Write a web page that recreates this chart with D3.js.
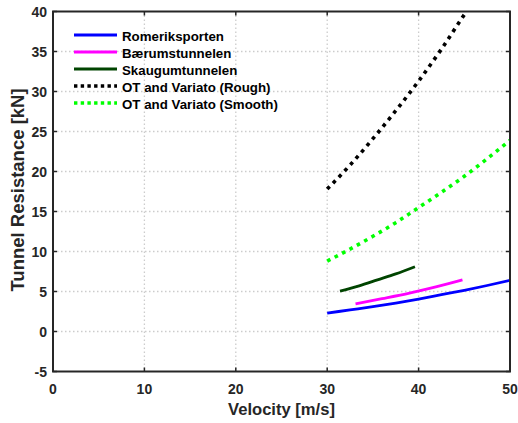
<!DOCTYPE html>
<html><head><meta charset="utf-8">
<script src="https://cdn.jsdelivr.net/npm/d3@7"></script>
<style>body{margin:0;background:#fff}svg{display:block;font-family:"Liberation Sans",Arial,sans-serif}</style>
</head><body>
<svg id="c" width="518" height="423"></svg>
<script>
const xTicks = [0,10,20,30,40,50];
const yTicks = [-5,0,5,10,15,20,25,30,35,40];
const seriesNames = ["Romeriksporten","Bærumstunnelen","Skaugumtunnelen","OT and Variato (Rough)","OT and Variato (Smooth)"];
const seriesColors = ["#0000ff","#ff00ff","#004400","#000000","#00ff00"];
const seriesDotted = [false,false,false,true,true];
const romVel = [30,32.5,35,37.5,40,42.5,45,47.5,50];
const romRes = [2.3,2.7,3.1,3.55,4.05,4.6,5.15,5.75,6.4];
const baeVel = [33.1,36,39,42,44.8];
const baeRes = [3.45,4.1,4.8,5.6,6.45];
const skaVel = [31.4,33.5,35.5,37.5,39.6];
const skaRes = [5.05,5.7,6.45,7.2,8.1];
const roughVel = [30,32.5,35,37.5,40,42.5,45,45.3];
const roughRes = [17.8,20.8,24.1,27.6,31.3,35.3,39.6,40.1];
const smoothVel = [30,32.5,35,37.5,40,42.5,45,47.5,50];
const smoothRes = [8.8,10.3,11.9,13.6,15.5,17.4,19.4,21.6,23.9];
const seriesVel = [romVel,baeVel,skaVel,roughVel,smoothVel];
const seriesRes = [romRes,baeRes,skaRes,roughRes,smoothRes];

const svg = d3.select("#c");
const L=53,R=510,T=11.5,B=371.5;
const x = d3.scaleLinear().domain([0,50]).range([L,R]);
const y = d3.scaleLinear().domain([-5,40]).range([B,T]);
const axisCol="#262626";

// grid
const g = svg.append("g");
g.selectAll(".gx").data(xTicks.slice(1,-1)).join("line")
 .attr("x1",d=>x(d)).attr("x2",d=>x(d)).attr("y1",T).attr("y2",B)
 .attr("stroke","#cccccc").attr("stroke-width",1.3).attr("stroke-dasharray","1.5,2.5");
g.selectAll(".gy").data(yTicks.slice(1,-1)).join("line")
 .attr("y1",d=>y(d)).attr("y2",d=>y(d)).attr("x1",L).attr("x2",R)
 .attr("stroke","#cccccc").attr("stroke-width",1.3).attr("stroke-dasharray","1.5,2.5");

// lines
svg.append("clipPath").attr("id","pc").append("rect")
 .attr("x",L).attr("y",T).attr("width",R-L).attr("height",B-T);
const line = d3.line().x(d=>x(d[0])).y(d=>y(d[1])).curve(d3.curveMonotoneX);
seriesNames.forEach((n,i)=>{
  const pts = seriesVel[i].map((v,j)=>[v,seriesRes[i][j]]);
  svg.append("path").attr("d",line(pts)).attr("fill","none")
   .attr("clip-path","url(#pc)")
   .attr("stroke",seriesColors[i]).attr("stroke-width",seriesDotted[i]?3.6:2.8)
   .attr("stroke-dasharray",seriesDotted[i]?"3.6,4.8":null);
});

// axes
const ax = svg.append("g").attr("font-weight","bold").attr("font-size",14).attr("fill","#262626");
const tl=4;
xTicks.forEach(t=>{
  ax.append("line").attr("x1",x(t)).attr("x2",x(t)).attr("y1",B).attr("y2",B-tl).attr("stroke",axisCol).attr("stroke-width",1.5);
  ax.append("line").attr("x1",x(t)).attr("x2",x(t)).attr("y1",T).attr("y2",T+tl).attr("stroke",axisCol).attr("stroke-width",1.5);
  ax.append("text").attr("x",x(t)).attr("y",B+22).attr("text-anchor","middle").text(t);
});
yTicks.forEach(t=>{
  ax.append("line").attr("x1",L).attr("x2",L+tl).attr("y1",y(t)).attr("y2",y(t)).attr("stroke",axisCol).attr("stroke-width",1.5);
  ax.append("line").attr("x1",R).attr("x2",R-tl).attr("y1",y(t)).attr("y2",y(t)).attr("stroke",axisCol).attr("stroke-width",1.5);
  ax.append("text").attr("x",L-6).attr("y",y(t)+5).attr("text-anchor","end").text(t);
});
svg.append("rect").attr("x",L).attr("y",T).attr("width",R-L).attr("height",B-T)
 .attr("fill","none").attr("stroke",axisCol).attr("stroke-width",2);

ax.append("text").attr("x",(L+R)/2).attr("y",415).attr("text-anchor","middle").attr("font-size",16.6).text("Velocity [m/s]");
ax.append("text").attr("transform",`translate(23.5,190) rotate(-90)`).attr("text-anchor","middle").attr("font-size",18.5).text("Tunnel Resistance [kN]");

// legend
const lg = svg.append("g").attr("font-weight","bold").attr("font-size",13.3).attr("fill","#000");
seriesNames.forEach((n,i)=>{
  const yy = 35 + i*17;
  lg.append("line").attr("x1",74).attr("x2",117).attr("y1",yy).attr("y2",yy)
   .attr("stroke",seriesColors[i]).attr("stroke-width",seriesDotted[i]?3.4:2.8)
   .attr("stroke-dasharray",seriesDotted[i]?"3.4,3.3":null);
  lg.append("text").attr("x",122).attr("y",yy+6).text(n);
});
</script>
</body></html>
